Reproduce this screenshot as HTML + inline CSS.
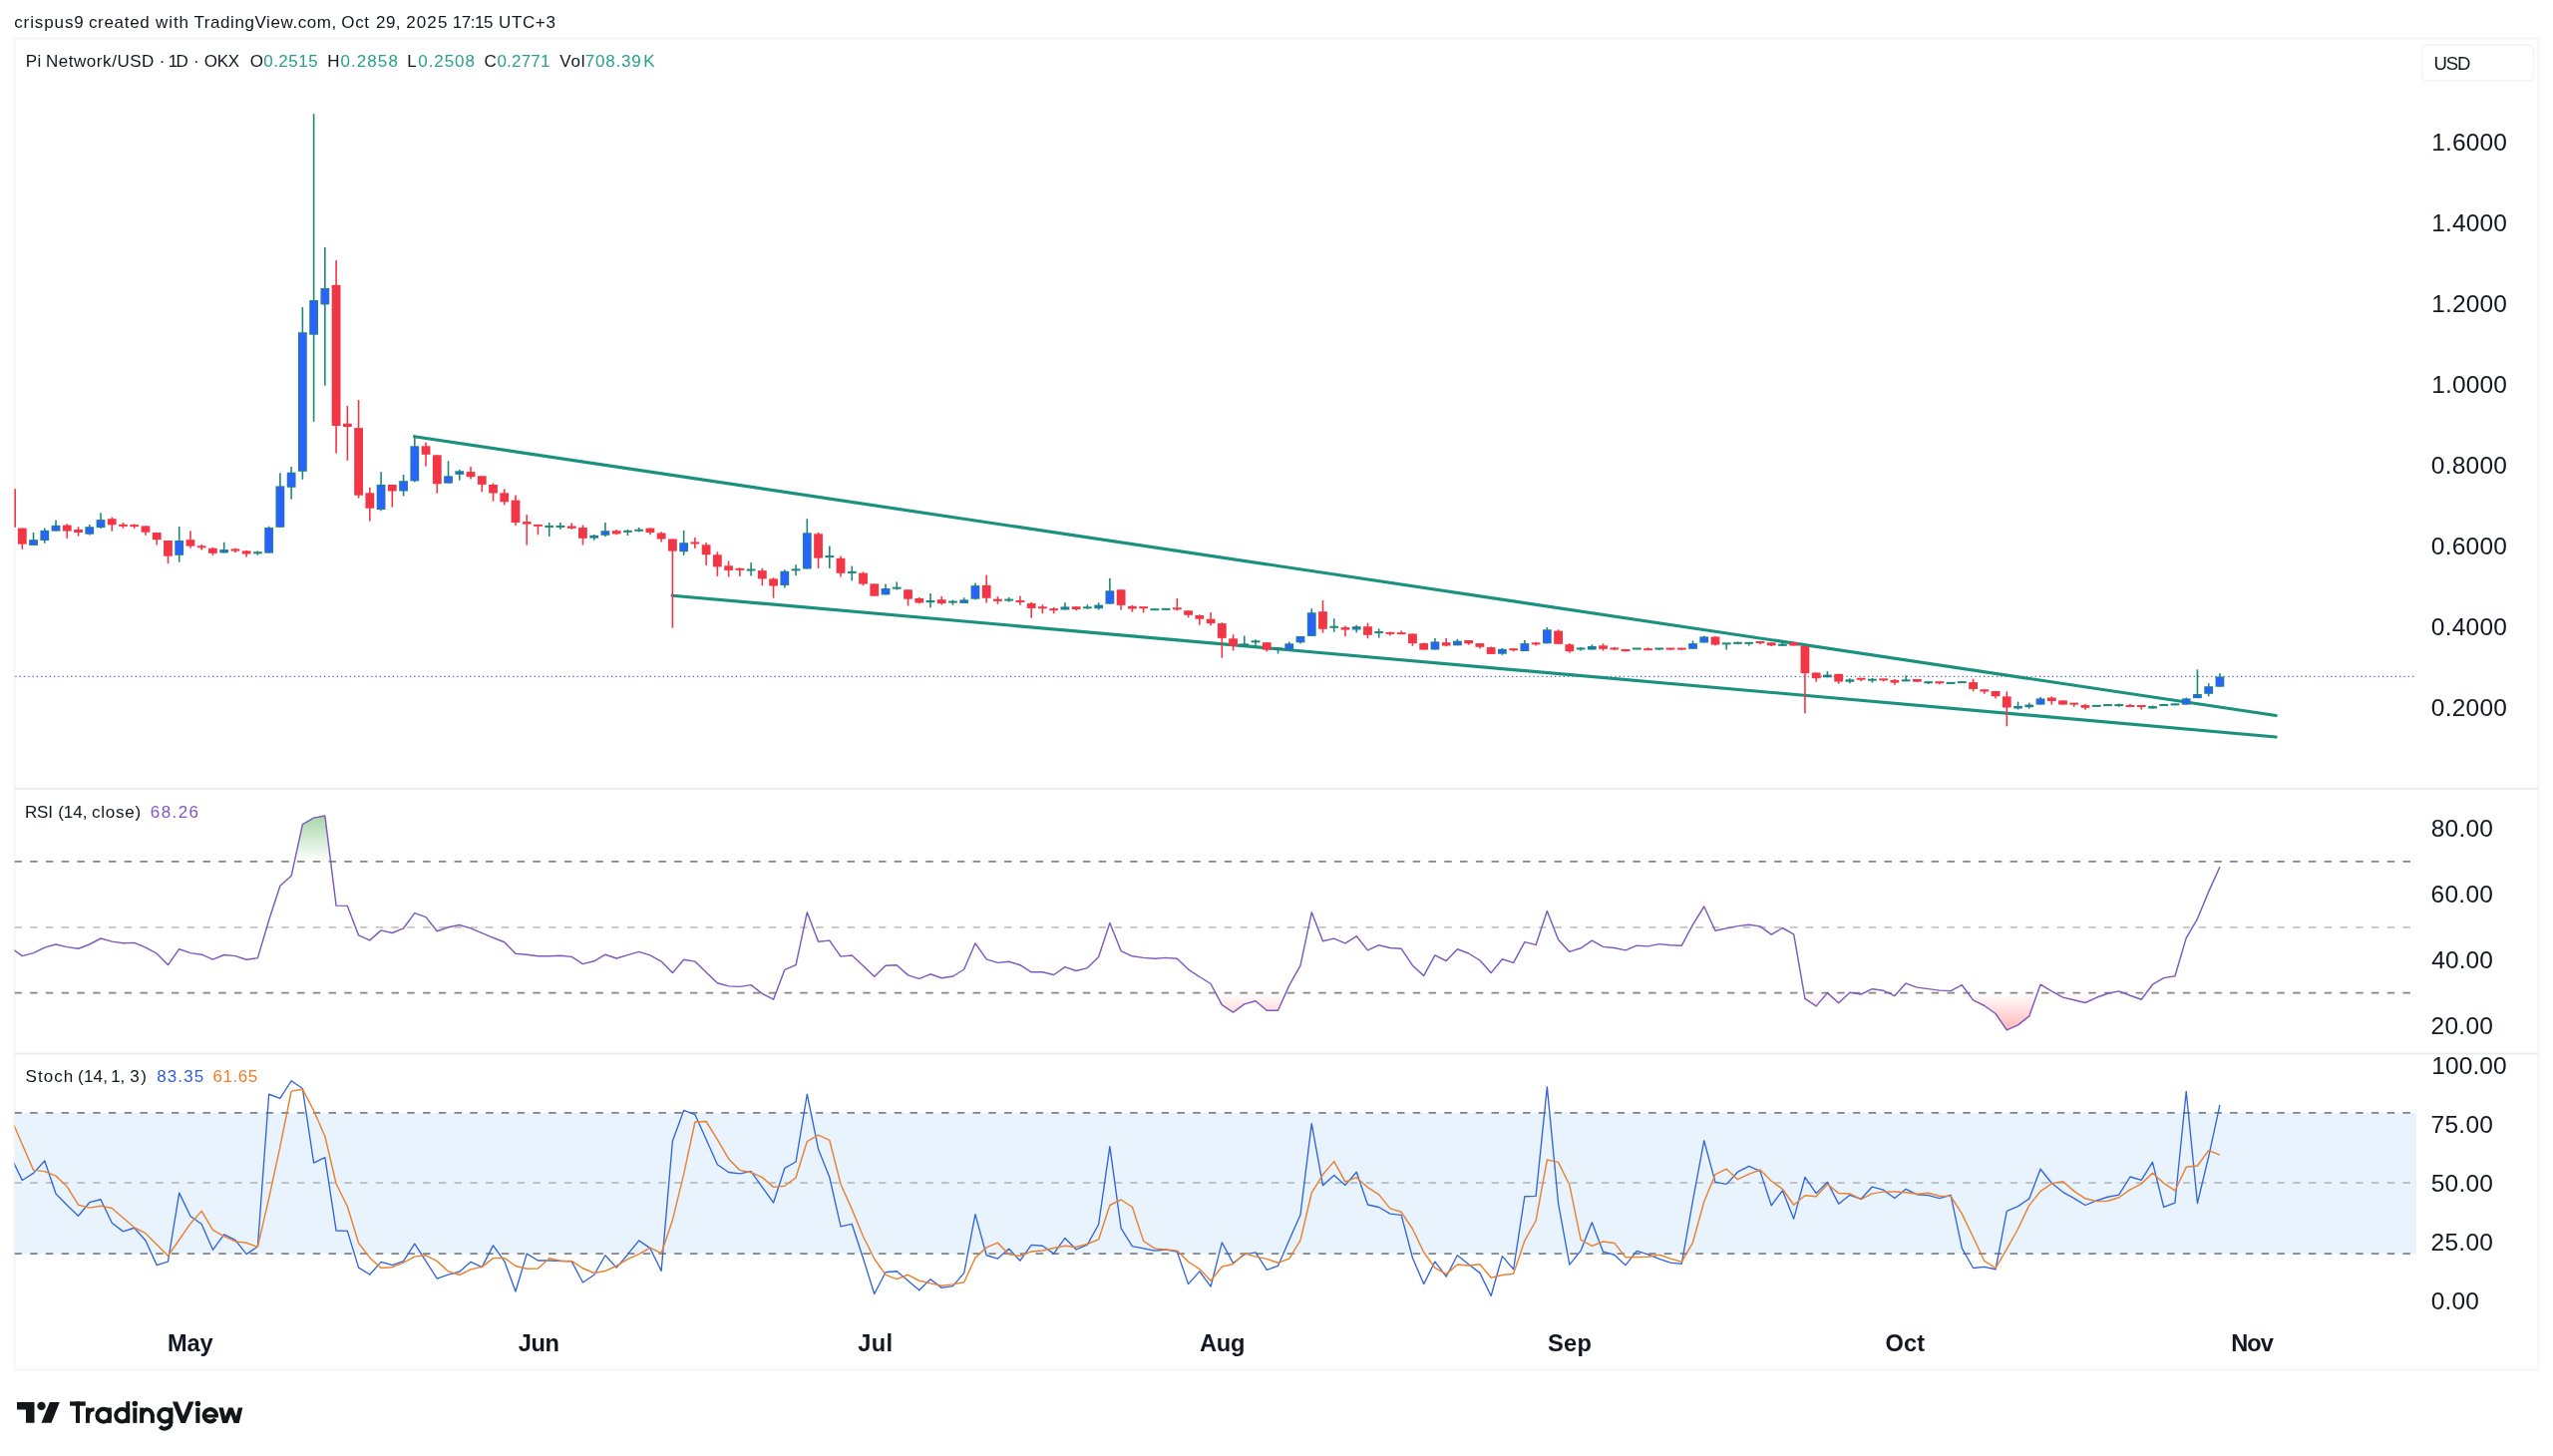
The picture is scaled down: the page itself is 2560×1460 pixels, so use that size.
<!DOCTYPE html>
<html><head><meta charset="utf-8"><title>Pi Network/USD chart</title>
<style>
html,body{margin:0;padding:0;background:#fff;}
body{width:2560px;height:1460px;position:relative;overflow:hidden;font-family:"Liberation Sans",sans-serif;}
.t{position:absolute;white-space:nowrap;}
</style></head><body>
<svg width="2560" height="1460" viewBox="0 0 2560 1460" style="position:absolute;left:0;top:0"><defs><clipPath id="cp"><rect x="14.5" y="39" width="2409" height="1334"/></clipPath><linearGradient id="gob" x1="0" y1="818" x2="0" y2="864" gradientUnits="userSpaceOnUse"><stop offset="0" stop-color="#4caf50" stop-opacity="0.5"/><stop offset="1" stop-color="#4caf50" stop-opacity="0"/></linearGradient><linearGradient id="gos" x1="0" y1="995.6" x2="0" y2="1033" gradientUnits="userSpaceOnUse"><stop offset="0" stop-color="#ff5252" stop-opacity="0"/><stop offset="1" stop-color="#ff5252" stop-opacity="0.42"/></linearGradient><clipPath id="cob"><rect x="14.5" y="800" width="2409" height="63.9"/></clipPath><clipPath id="cos"><rect x="14.5" y="995.6" width="2409" height="60"/></clipPath></defs><rect x="14.5" y="38.5" width="2531" height="1335" fill="none" stroke="#f6f6f6" stroke-width="2.2"/><line x1="14.5" y1="791" x2="2545.5" y2="791" stroke="#ececec" stroke-width="2"/><line x1="14.5" y1="1056.6" x2="2545.5" y2="1056.6" stroke="#ececec" stroke-width="2"/><rect x="2428.5" y="45" width="112" height="36" rx="5" fill="none" stroke="#f5f5f5" stroke-width="1.8"/><g clip-path="url(#cp)"><rect x="14.5" y="1116" width="2408.5" height="141.0999999999999" fill="#e8f3fd"/><line x1="14.4" y1="863.9" x2="2423" y2="863.9" stroke="#858585" stroke-width="1.7" stroke-dasharray="7.45 8.307"/><line x1="14.4" y1="929.8" x2="2423" y2="929.8" stroke="#c4c4c4" stroke-width="1.7" stroke-dasharray="7.45 8.307"/><line x1="14.4" y1="995.6" x2="2423" y2="995.6" stroke="#858585" stroke-width="1.7" stroke-dasharray="7.45 8.307"/><line x1="14.4" y1="1115.9" x2="2423" y2="1115.9" stroke="#7d8389" stroke-width="1.7" stroke-dasharray="7.45 8.307"/><line x1="14.4" y1="1186.2" x2="2423" y2="1186.2" stroke="#b5bcc4" stroke-width="1.7" stroke-dasharray="7.45 8.307"/><line x1="14.4" y1="1257.1" x2="2423" y2="1257.1" stroke="#7d8389" stroke-width="1.7" stroke-dasharray="7.45 8.307"/><line x1="15.3" y1="678.4" x2="2423" y2="678.4" stroke="#4f69bf" stroke-width="1.35" stroke-dasharray="1.3 3.0"/><line x1="415.5" y1="437.7" x2="2282.2" y2="717.5" stroke="#1a917f" stroke-width="3.15" stroke-linecap="round"/><line x1="674.1" y1="597.2" x2="2282.2" y2="739" stroke="#1a917f" stroke-width="3.15" stroke-linecap="round"/><rect x="10.26" y="490.3" width="1.6" height="38.5" fill="#f23645"/><rect x="6.66" y="490.3" width="8.8" height="38.5" fill="#f23645"/><rect x="21.5" y="529.6" width="1.6" height="21.2" fill="#f23645"/><rect x="17.9" y="529.6" width="8.8" height="16" fill="#f23645"/><rect x="32.74" y="534" width="1.6" height="12.9" fill="#1f8777"/><rect x="29.14" y="541.2" width="8.8" height="5.7" fill="#1f8777"/><rect x="30.04" y="542.1" width="7" height="3.9" fill="#2962ff"/><rect x="43.99" y="529.6" width="1.6" height="15.1" fill="#1f8777"/><rect x="40.39" y="531.8" width="8.8" height="10.2" fill="#1f8777"/><rect x="41.29" y="532.7" width="7" height="8.4" fill="#2962ff"/><rect x="55.23" y="521.6" width="1.6" height="11" fill="#1f8777"/><rect x="51.63" y="526.8" width="8.8" height="5.8" fill="#1f8777"/><rect x="52.53" y="527.7" width="7" height="4" fill="#2962ff"/><rect x="66.47" y="525.3" width="1.6" height="14.5" fill="#f23645"/><rect x="62.87" y="526.6" width="8.8" height="6" fill="#f23645"/><rect x="77.72" y="528.2" width="1.6" height="9.4" fill="#f23645"/><rect x="74.11" y="531" width="8.8" height="3" fill="#f23645"/><rect x="88.96" y="526" width="1.6" height="10.5" fill="#1f8777"/><rect x="85.36" y="528.2" width="8.8" height="7.5" fill="#1f8777"/><rect x="86.26" y="529.1" width="7" height="5.7" fill="#2962ff"/><rect x="100.2" y="514.3" width="1.6" height="15.6" fill="#1f8777"/><rect x="96.6" y="521.1" width="8.8" height="8" fill="#1f8777"/><rect x="97.5" y="522" width="7" height="6.2" fill="#2962ff"/><rect x="111.44" y="518.7" width="1.6" height="13.9" fill="#f23645"/><rect x="107.84" y="520.2" width="8.8" height="6.1" fill="#f23645"/><rect x="122.69" y="524" width="1.6" height="5.7" fill="#f23645"/><rect x="119.09" y="525.85" width="8.8" height="2" fill="#f23645"/><rect x="133.93" y="525.5" width="1.6" height="4.4" fill="#f23645"/><rect x="130.33" y="526.1" width="8.8" height="2" fill="#f23645"/><rect x="145.17" y="527.4" width="1.6" height="9.4" fill="#f23645"/><rect x="141.57" y="527.4" width="8.8" height="6.3" fill="#f23645"/><rect x="156.42" y="534" width="1.6" height="12.4" fill="#f23645"/><rect x="152.82" y="534" width="8.8" height="7.2" fill="#f23645"/><rect x="167.66" y="542" width="1.6" height="23" fill="#f23645"/><rect x="164.06" y="542" width="8.8" height="15.7" fill="#f23645"/><rect x="178.9" y="528" width="1.6" height="35.7" fill="#1f8777"/><rect x="175.3" y="542" width="8.8" height="14.8" fill="#1f8777"/><rect x="176.2" y="542.9" width="7" height="13" fill="#2962ff"/><rect x="190.15" y="532.3" width="1.6" height="17.4" fill="#f23645"/><rect x="186.55" y="541.2" width="8.8" height="6.4" fill="#f23645"/><rect x="201.39" y="546" width="1.6" height="5.5" fill="#f23645"/><rect x="197.79" y="547.3" width="8.8" height="2" fill="#f23645"/><rect x="212.63" y="548.9" width="1.6" height="8.1" fill="#f23645"/><rect x="209.03" y="549.7" width="8.8" height="5.1" fill="#f23645"/><rect x="223.87" y="543.8" width="1.6" height="10.6" fill="#1f8777"/><rect x="220.27" y="551.1" width="8.8" height="3.3" fill="#1f8777"/><rect x="221.17" y="552" width="7" height="1.5" fill="#1f6fd0"/><rect x="235.12" y="549.7" width="1.6" height="4.3" fill="#f23645"/><rect x="231.52" y="550.4" width="8.8" height="2.2" fill="#f23645"/><rect x="246.36" y="551.9" width="1.6" height="6.6" fill="#f23645"/><rect x="242.76" y="552.4" width="8.8" height="3.1" fill="#f23645"/><rect x="257.6" y="552.4" width="1.6" height="4.2" fill="#1f8777"/><rect x="254" y="553.3" width="8.8" height="2" fill="#1f8777"/><rect x="268.85" y="527.7" width="1.6" height="26.9" fill="#1f8777"/><rect x="265.25" y="529.1" width="8.8" height="25.5" fill="#1f8777"/><rect x="266.15" y="530" width="7" height="23.7" fill="#2962ff"/><rect x="280.09" y="474.3" width="1.6" height="54.5" fill="#1f8777"/><rect x="276.49" y="487.4" width="8.8" height="41.4" fill="#1f8777"/><rect x="277.39" y="488.3" width="7" height="39.6" fill="#2962ff"/><rect x="291.33" y="468.1" width="1.6" height="32.4" fill="#1f8777"/><rect x="287.73" y="473.7" width="8.8" height="15.1" fill="#1f8777"/><rect x="288.63" y="474.6" width="7" height="13.3" fill="#2962ff"/><rect x="302.57" y="307.9" width="1.6" height="172.9" fill="#1f8777"/><rect x="298.98" y="333.2" width="8.8" height="139.6" fill="#1f8777"/><rect x="299.88" y="334.1" width="7" height="137.8" fill="#2962ff"/><rect x="313.82" y="114.2" width="1.6" height="308.7" fill="#1f8777"/><rect x="310.22" y="301" width="8.8" height="34.7" fill="#1f8777"/><rect x="311.12" y="301.9" width="7" height="32.9" fill="#2962ff"/><rect x="325.06" y="247.9" width="1.6" height="138.7" fill="#1f8777"/><rect x="321.46" y="289" width="8.8" height="16.4" fill="#1f8777"/><rect x="322.36" y="289.9" width="7" height="14.6" fill="#2962ff"/><rect x="336.3" y="261.1" width="1.6" height="193.4" fill="#f23645"/><rect x="332.7" y="285.8" width="8.8" height="141.2" fill="#f23645"/><rect x="347.55" y="407.1" width="1.6" height="54.7" fill="#f23645"/><rect x="343.95" y="424.8" width="8.8" height="3.2" fill="#f23645"/><rect x="358.79" y="401.1" width="1.6" height="98.4" fill="#f23645"/><rect x="355.19" y="429.1" width="8.8" height="67.6" fill="#f23645"/><rect x="370.03" y="488.8" width="1.6" height="33.7" fill="#f23645"/><rect x="366.43" y="494.3" width="8.8" height="15.4" fill="#f23645"/><rect x="381.28" y="473.1" width="1.6" height="39.2" fill="#1f8777"/><rect x="377.68" y="486" width="8.8" height="25" fill="#1f8777"/><rect x="378.58" y="486.9" width="7" height="23.2" fill="#2962ff"/><rect x="392.52" y="486" width="1.6" height="22.6" fill="#f23645"/><rect x="388.92" y="486" width="8.8" height="6.5" fill="#f23645"/><rect x="403.76" y="476" width="1.6" height="21.5" fill="#1f8777"/><rect x="400.16" y="482.2" width="8.8" height="10.3" fill="#1f8777"/><rect x="401.06" y="483.1" width="7" height="8.5" fill="#2962ff"/><rect x="415" y="437.4" width="1.6" height="45.9" fill="#1f8777"/><rect x="411.41" y="447.3" width="8.8" height="35.1" fill="#1f8777"/><rect x="412.31" y="448.2" width="7" height="33.3" fill="#2962ff"/><rect x="426.25" y="443.7" width="1.6" height="23.9" fill="#f23645"/><rect x="422.65" y="447.3" width="8.8" height="8.5" fill="#f23645"/><rect x="437.49" y="456.3" width="1.6" height="38.4" fill="#f23645"/><rect x="433.89" y="456.3" width="8.8" height="28.9" fill="#f23645"/><rect x="448.73" y="462.3" width="1.6" height="22.3" fill="#1f8777"/><rect x="445.13" y="477.3" width="8.8" height="7.3" fill="#1f8777"/><rect x="446.03" y="478.2" width="7" height="5.5" fill="#2962ff"/><rect x="459.98" y="470.9" width="1.6" height="10.7" fill="#1f8777"/><rect x="456.38" y="472.3" width="8.8" height="3.5" fill="#1f8777"/><rect x="457.28" y="473.2" width="7" height="1.7" fill="#1f6fd0"/><rect x="471.22" y="468.1" width="1.6" height="12.3" fill="#f23645"/><rect x="467.62" y="473.1" width="8.8" height="5.1" fill="#f23645"/><rect x="482.46" y="477.3" width="1.6" height="16.1" fill="#f23645"/><rect x="478.86" y="477.3" width="8.8" height="8.6" fill="#f23645"/><rect x="493.71" y="484.4" width="1.6" height="18.3" fill="#f23645"/><rect x="490.11" y="486" width="8.8" height="8.5" fill="#f23645"/><rect x="504.95" y="490.3" width="1.6" height="16.1" fill="#f23645"/><rect x="501.35" y="494.3" width="8.8" height="9" fill="#f23645"/><rect x="516.19" y="496.5" width="1.6" height="30.4" fill="#f23645"/><rect x="512.59" y="501.6" width="8.8" height="22.4" fill="#f23645"/><rect x="527.44" y="516.2" width="1.6" height="30.3" fill="#f23645"/><rect x="523.84" y="523.1" width="8.8" height="2.5" fill="#f23645"/><rect x="538.68" y="526.2" width="1.6" height="10.1" fill="#f23645"/><rect x="535.08" y="525.85" width="8.8" height="2" fill="#f23645"/><rect x="549.92" y="524" width="1.6" height="13.9" fill="#1f8777"/><rect x="546.32" y="526.95" width="8.8" height="2" fill="#1f8777"/><rect x="561.16" y="524" width="1.6" height="6.8" fill="#1f8777"/><rect x="557.56" y="526.95" width="8.8" height="2" fill="#1f8777"/><rect x="572.41" y="524.5" width="1.6" height="6.3" fill="#f23645"/><rect x="568.81" y="527.5" width="8.8" height="2.4" fill="#f23645"/><rect x="583.65" y="526.4" width="1.6" height="20.1" fill="#f23645"/><rect x="580.05" y="529.1" width="8.8" height="10.7" fill="#f23645"/><rect x="594.89" y="536" width="1.6" height="5.8" fill="#1f8777"/><rect x="591.29" y="536.8" width="8.8" height="2.8" fill="#1f8777"/><rect x="592.19" y="537.7" width="7" height="1" fill="#1f6fd0"/><rect x="606.14" y="524" width="1.6" height="14.2" fill="#1f8777"/><rect x="602.54" y="532.2" width="8.8" height="4.6" fill="#1f8777"/><rect x="603.44" y="533.1" width="7" height="2.8" fill="#2962ff"/><rect x="617.38" y="531.1" width="1.6" height="5.2" fill="#f23645"/><rect x="613.78" y="532.2" width="8.8" height="3.2" fill="#f23645"/><rect x="628.62" y="530.9" width="1.6" height="6.1" fill="#1f8777"/><rect x="625.02" y="531.85" width="8.8" height="2" fill="#1f8777"/><rect x="639.87" y="529" width="1.6" height="4.4" fill="#1f8777"/><rect x="636.26" y="530.75" width="8.8" height="2" fill="#1f8777"/><rect x="651.11" y="529.6" width="1.6" height="6.6" fill="#f23645"/><rect x="647.51" y="529.6" width="8.8" height="4.4" fill="#f23645"/><rect x="662.35" y="533.2" width="1.6" height="10.3" fill="#f23645"/><rect x="658.75" y="534.5" width="8.8" height="6" fill="#f23645"/><rect x="673.59" y="540.5" width="1.6" height="89.1" fill="#f23645"/><rect x="669.99" y="540.5" width="8.8" height="12.1" fill="#f23645"/><rect x="684.84" y="531.8" width="1.6" height="25" fill="#1f8777"/><rect x="681.24" y="544.2" width="8.8" height="9" fill="#1f8777"/><rect x="682.14" y="545.1" width="7" height="7.2" fill="#2962ff"/><rect x="696.08" y="539.1" width="1.6" height="10.8" fill="#f23645"/><rect x="692.48" y="543.45" width="8.8" height="2" fill="#f23645"/><rect x="707.32" y="544.1" width="1.6" height="22.8" fill="#f23645"/><rect x="703.72" y="546.3" width="8.8" height="10" fill="#f23645"/><rect x="718.57" y="553.4" width="1.6" height="24.5" fill="#f23645"/><rect x="714.97" y="556.3" width="8.8" height="12.1" fill="#f23645"/><rect x="729.81" y="562.5" width="1.6" height="16" fill="#f23645"/><rect x="726.21" y="567.3" width="8.8" height="4.6" fill="#f23645"/><rect x="741.05" y="569.3" width="1.6" height="8.6" fill="#f23645"/><rect x="737.45" y="569.85" width="8.8" height="2" fill="#f23645"/><rect x="752.3" y="564.2" width="1.6" height="13.2" fill="#1f8777"/><rect x="748.7" y="570.5" width="8.8" height="2" fill="#1f8777"/><rect x="763.54" y="569.7" width="1.6" height="17.6" fill="#f23645"/><rect x="759.94" y="572.1" width="8.8" height="8.3" fill="#f23645"/><rect x="774.78" y="579.2" width="1.6" height="20.5" fill="#f23645"/><rect x="771.18" y="580.4" width="8.8" height="7.1" fill="#f23645"/><rect x="786.02" y="571.3" width="1.6" height="18.2" fill="#1f8777"/><rect x="782.42" y="572.7" width="8.8" height="14.3" fill="#1f8777"/><rect x="783.32" y="573.6" width="7" height="12.5" fill="#2962ff"/><rect x="797.27" y="566.2" width="1.6" height="10.9" fill="#1f8777"/><rect x="793.67" y="570.35" width="8.8" height="2" fill="#1f8777"/><rect x="808.51" y="520.2" width="1.6" height="50.3" fill="#1f8777"/><rect x="804.91" y="534.3" width="8.8" height="36.2" fill="#1f8777"/><rect x="805.81" y="535.2" width="7" height="34.4" fill="#2962ff"/><rect x="819.75" y="534" width="1.6" height="35.9" fill="#f23645"/><rect x="816.15" y="535.3" width="8.8" height="24.3" fill="#f23645"/><rect x="831" y="547.5" width="1.6" height="22.4" fill="#1f8777"/><rect x="827.4" y="557.05" width="8.8" height="2" fill="#1f8777"/><rect x="842.24" y="557.6" width="1.6" height="20.9" fill="#f23645"/><rect x="838.64" y="559.8" width="8.8" height="15" fill="#f23645"/><rect x="853.48" y="567.6" width="1.6" height="14.7" fill="#1f8777"/><rect x="849.88" y="572.9" width="8.8" height="2" fill="#1f8777"/><rect x="864.73" y="573.3" width="1.6" height="14" fill="#f23645"/><rect x="861.12" y="574.6" width="8.8" height="11" fill="#f23645"/><rect x="875.97" y="585.4" width="1.6" height="12.3" fill="#f23645"/><rect x="872.37" y="585.4" width="8.8" height="12.3" fill="#f23645"/><rect x="887.21" y="585.6" width="1.6" height="10.8" fill="#1f8777"/><rect x="883.61" y="590" width="8.8" height="6.4" fill="#1f8777"/><rect x="884.51" y="590.9" width="7" height="4.6" fill="#2962ff"/><rect x="898.45" y="583.5" width="1.6" height="8" fill="#1f8777"/><rect x="894.85" y="588.65" width="8.8" height="2" fill="#1f8777"/><rect x="909.7" y="591.3" width="1.6" height="16.2" fill="#f23645"/><rect x="906.1" y="591.3" width="8.8" height="9.4" fill="#f23645"/><rect x="920.94" y="599" width="1.6" height="6.3" fill="#f23645"/><rect x="917.34" y="600" width="8.8" height="4.5" fill="#f23645"/><rect x="932.18" y="595.1" width="1.6" height="14.2" fill="#1f8777"/><rect x="928.58" y="602" width="8.8" height="2.2" fill="#1f8777"/><rect x="943.43" y="597.9" width="1.6" height="8.5" fill="#f23645"/><rect x="939.83" y="601.2" width="8.8" height="3.9" fill="#f23645"/><rect x="954.67" y="601.6" width="1.6" height="5" fill="#1f8777"/><rect x="951.07" y="602.55" width="8.8" height="2" fill="#1f8777"/><rect x="965.91" y="599.2" width="1.6" height="5.7" fill="#1f8777"/><rect x="962.31" y="601.4" width="8.8" height="3.5" fill="#1f8777"/><rect x="963.21" y="602.3" width="7" height="1.7" fill="#1f6fd0"/><rect x="977.15" y="584.6" width="1.6" height="16.8" fill="#1f8777"/><rect x="973.55" y="587.1" width="8.8" height="13.6" fill="#1f8777"/><rect x="974.45" y="588" width="7" height="11.8" fill="#2962ff"/><rect x="988.4" y="576.7" width="1.6" height="27.8" fill="#f23645"/><rect x="984.8" y="586.9" width="8.8" height="12.9" fill="#f23645"/><rect x="999.64" y="598.1" width="1.6" height="7.7" fill="#f23645"/><rect x="996.04" y="600.7" width="8.8" height="2.2" fill="#f23645"/><rect x="1010.88" y="598.9" width="1.6" height="4.7" fill="#1f8777"/><rect x="1007.28" y="600.6" width="8.8" height="2" fill="#1f8777"/><rect x="1022.13" y="597.6" width="1.6" height="9" fill="#f23645"/><rect x="1018.53" y="602" width="8.8" height="2" fill="#f23645"/><rect x="1033.37" y="603.8" width="1.6" height="15.8" fill="#f23645"/><rect x="1029.77" y="605.1" width="8.8" height="4.8" fill="#f23645"/><rect x="1044.61" y="606.2" width="1.6" height="9" fill="#f23645"/><rect x="1041.01" y="608.25" width="8.8" height="2" fill="#f23645"/><rect x="1055.86" y="608.9" width="1.6" height="6.3" fill="#f23645"/><rect x="1052.26" y="610.2" width="8.8" height="2" fill="#f23645"/><rect x="1067.1" y="604.2" width="1.6" height="7.3" fill="#1f8777"/><rect x="1063.5" y="608.4" width="8.8" height="3.1" fill="#1f8777"/><rect x="1064.4" y="609.3" width="7" height="1.3" fill="#1f6fd0"/><rect x="1078.34" y="608.2" width="1.6" height="4" fill="#f23645"/><rect x="1074.74" y="608.2" width="8.8" height="2.8" fill="#f23645"/><rect x="1089.59" y="606.2" width="1.6" height="4.6" fill="#1f8777"/><rect x="1085.98" y="608.3" width="8.8" height="2" fill="#1f8777"/><rect x="1100.83" y="604.2" width="1.6" height="7.4" fill="#1f8777"/><rect x="1097.23" y="606.6" width="8.8" height="3.6" fill="#1f8777"/><rect x="1098.13" y="607.5" width="7" height="1.8" fill="#1f6fd0"/><rect x="1112.07" y="579.8" width="1.6" height="25.8" fill="#1f8777"/><rect x="1108.47" y="592.3" width="8.8" height="13.3" fill="#1f8777"/><rect x="1109.37" y="593.2" width="7" height="11.5" fill="#2962ff"/><rect x="1123.31" y="591.3" width="1.6" height="20.3" fill="#f23645"/><rect x="1119.71" y="591.3" width="8.8" height="15.6" fill="#f23645"/><rect x="1134.56" y="606.9" width="1.6" height="6.8" fill="#f23645"/><rect x="1130.96" y="607.8" width="8.8" height="2.7" fill="#f23645"/><rect x="1145.8" y="608.6" width="1.6" height="5.8" fill="#f23645"/><rect x="1142.2" y="608.15" width="8.8" height="2" fill="#f23645"/><rect x="1157.04" y="610.5" width="1.6" height="1.4" fill="#1f8777"/><rect x="1153.44" y="610.2" width="8.8" height="2" fill="#1f8777"/><rect x="1168.29" y="610.2" width="1.6" height="1.9" fill="#1f8777"/><rect x="1164.69" y="609.85" width="8.8" height="2" fill="#1f8777"/><rect x="1179.53" y="600" width="1.6" height="12.4" fill="#f23645"/><rect x="1175.93" y="609.3" width="8.8" height="2" fill="#f23645"/><rect x="1190.77" y="612.3" width="1.6" height="6.9" fill="#f23645"/><rect x="1187.17" y="612.3" width="8.8" height="4.5" fill="#f23645"/><rect x="1202.02" y="616.3" width="1.6" height="10.3" fill="#f23645"/><rect x="1198.41" y="617" width="8.8" height="3.7" fill="#f23645"/><rect x="1213.26" y="614.1" width="1.6" height="13.2" fill="#f23645"/><rect x="1209.66" y="620.7" width="8.8" height="4.4" fill="#f23645"/><rect x="1224.5" y="624.2" width="1.6" height="35.5" fill="#f23645"/><rect x="1220.9" y="625.1" width="8.8" height="14.8" fill="#f23645"/><rect x="1235.74" y="636.3" width="1.6" height="16.1" fill="#f23645"/><rect x="1232.14" y="640.3" width="8.8" height="7.3" fill="#f23645"/><rect x="1246.99" y="637.6" width="1.6" height="9.7" fill="#1f8777"/><rect x="1243.39" y="645.35" width="8.8" height="2" fill="#1f8777"/><rect x="1258.23" y="641.2" width="1.6" height="6.6" fill="#1f8777"/><rect x="1254.63" y="642.3" width="8.8" height="2" fill="#1f8777"/><rect x="1269.47" y="644.2" width="1.6" height="9.1" fill="#f23645"/><rect x="1265.87" y="644.2" width="8.8" height="7.4" fill="#f23645"/><rect x="1280.72" y="649.2" width="1.6" height="6.3" fill="#1f8777"/><rect x="1277.12" y="649.35" width="8.8" height="2" fill="#1f8777"/><rect x="1291.96" y="643.6" width="1.6" height="8" fill="#1f8777"/><rect x="1288.36" y="645.3" width="8.8" height="6.3" fill="#1f8777"/><rect x="1289.26" y="646.2" width="7" height="4.5" fill="#2962ff"/><rect x="1303.2" y="637.9" width="1.6" height="7.5" fill="#1f8777"/><rect x="1299.6" y="637.9" width="8.8" height="6.4" fill="#1f8777"/><rect x="1300.5" y="638.8" width="7" height="4.6" fill="#2962ff"/><rect x="1314.44" y="610.2" width="1.6" height="27.7" fill="#1f8777"/><rect x="1310.84" y="614.3" width="8.8" height="23.6" fill="#1f8777"/><rect x="1311.74" y="615.2" width="7" height="21.8" fill="#2962ff"/><rect x="1325.69" y="602" width="1.6" height="32.6" fill="#f23645"/><rect x="1322.09" y="613.2" width="8.8" height="17.6" fill="#f23645"/><rect x="1336.93" y="620.3" width="1.6" height="13.5" fill="#1f8777"/><rect x="1333.33" y="627.75" width="8.8" height="2" fill="#1f8777"/><rect x="1348.17" y="627.5" width="1.6" height="10.7" fill="#f23645"/><rect x="1344.57" y="629.1" width="8.8" height="2.5" fill="#f23645"/><rect x="1359.42" y="626.9" width="1.6" height="7.5" fill="#1f8777"/><rect x="1355.82" y="628.2" width="8.8" height="3.3" fill="#1f8777"/><rect x="1356.72" y="629.1" width="7" height="1.5" fill="#1f6fd0"/><rect x="1370.66" y="624.7" width="1.6" height="15.6" fill="#f23645"/><rect x="1367.06" y="628.2" width="8.8" height="8.6" fill="#f23645"/><rect x="1381.9" y="630.4" width="1.6" height="9.2" fill="#1f8777"/><rect x="1378.3" y="633.05" width="8.8" height="2" fill="#1f8777"/><rect x="1393.15" y="633.5" width="1.6" height="3.9" fill="#f23645"/><rect x="1389.55" y="633.9" width="8.8" height="2" fill="#f23645"/><rect x="1404.39" y="632.4" width="1.6" height="3.3" fill="#f23645"/><rect x="1400.79" y="634.15" width="8.8" height="2" fill="#f23645"/><rect x="1415.63" y="635.5" width="1.6" height="12.3" fill="#f23645"/><rect x="1412.03" y="635.5" width="8.8" height="9.6" fill="#f23645"/><rect x="1426.88" y="644.5" width="1.6" height="7.1" fill="#f23645"/><rect x="1423.27" y="645.1" width="8.8" height="6.5" fill="#f23645"/><rect x="1438.12" y="640" width="1.6" height="11.5" fill="#1f8777"/><rect x="1434.52" y="643.4" width="8.8" height="8.1" fill="#1f8777"/><rect x="1435.42" y="644.3" width="7" height="6.3" fill="#2962ff"/><rect x="1449.36" y="640" width="1.6" height="8.2" fill="#f23645"/><rect x="1445.76" y="644.2" width="8.8" height="3.3" fill="#f23645"/><rect x="1460.6" y="640.9" width="1.6" height="6.4" fill="#1f8777"/><rect x="1457" y="642.7" width="8.8" height="4.6" fill="#1f8777"/><rect x="1457.9" y="643.6" width="7" height="2.8" fill="#2962ff"/><rect x="1471.85" y="642" width="1.6" height="4.7" fill="#f23645"/><rect x="1468.25" y="642" width="8.8" height="3.3" fill="#f23645"/><rect x="1483.09" y="645.1" width="1.6" height="5.4" fill="#f23645"/><rect x="1479.49" y="645.1" width="8.8" height="3.7" fill="#f23645"/><rect x="1494.33" y="648.4" width="1.6" height="7.5" fill="#f23645"/><rect x="1490.73" y="649.1" width="8.8" height="6.8" fill="#f23645"/><rect x="1505.58" y="649.9" width="1.6" height="6.9" fill="#1f8777"/><rect x="1501.98" y="650.8" width="8.8" height="4.9" fill="#1f8777"/><rect x="1502.88" y="651.7" width="7" height="3.1" fill="#2962ff"/><rect x="1516.82" y="650.5" width="1.6" height="2.8" fill="#f23645"/><rect x="1513.22" y="650.2" width="8.8" height="2" fill="#f23645"/><rect x="1528.06" y="642" width="1.6" height="11" fill="#1f8777"/><rect x="1524.46" y="645.1" width="8.8" height="7.9" fill="#1f8777"/><rect x="1525.36" y="646" width="7" height="6.1" fill="#2962ff"/><rect x="1539.31" y="643.8" width="1.6" height="3.7" fill="#f23645"/><rect x="1535.7" y="644.35" width="8.8" height="2" fill="#f23645"/><rect x="1550.55" y="629" width="1.6" height="16.3" fill="#1f8777"/><rect x="1546.95" y="631.3" width="8.8" height="14" fill="#1f8777"/><rect x="1547.85" y="632.2" width="7" height="12.2" fill="#2962ff"/><rect x="1561.79" y="631.3" width="1.6" height="14.5" fill="#f23645"/><rect x="1558.19" y="632.6" width="8.8" height="13.2" fill="#f23645"/><rect x="1573.03" y="645" width="1.6" height="9.6" fill="#f23645"/><rect x="1569.43" y="646.2" width="8.8" height="7" fill="#f23645"/><rect x="1584.28" y="648.9" width="1.6" height="3.7" fill="#1f8777"/><rect x="1580.68" y="649.45" width="8.8" height="2" fill="#1f8777"/><rect x="1595.52" y="646.4" width="1.6" height="5.1" fill="#1f8777"/><rect x="1591.92" y="648" width="8.8" height="3.5" fill="#1f8777"/><rect x="1592.82" y="648.9" width="7" height="1.7" fill="#1f6fd0"/><rect x="1606.76" y="645.3" width="1.6" height="7.3" fill="#f23645"/><rect x="1603.16" y="647.3" width="8.8" height="3.5" fill="#f23645"/><rect x="1618.01" y="648.9" width="1.6" height="3" fill="#f23645"/><rect x="1614.41" y="649.45" width="8.8" height="2" fill="#f23645"/><rect x="1629.25" y="651" width="1.6" height="2.2" fill="#f23645"/><rect x="1625.65" y="651" width="8.8" height="2.2" fill="#f23645"/><rect x="1640.49" y="649.9" width="1.6" height="1.2" fill="#1f8777"/><rect x="1636.89" y="649.5" width="8.8" height="2" fill="#1f8777"/><rect x="1651.74" y="649.3" width="1.6" height="2.6" fill="#f23645"/><rect x="1648.13" y="650.2" width="8.8" height="2" fill="#f23645"/><rect x="1662.98" y="649.9" width="1.6" height="2" fill="#1f8777"/><rect x="1659.38" y="649.5" width="8.8" height="2" fill="#1f8777"/><rect x="1674.22" y="650" width="1.6" height="1.9" fill="#f23645"/><rect x="1670.62" y="649.55" width="8.8" height="2" fill="#f23645"/><rect x="1685.46" y="650" width="1.6" height="1.9" fill="#f23645"/><rect x="1681.86" y="649.55" width="8.8" height="2" fill="#f23645"/><rect x="1696.71" y="642.5" width="1.6" height="8.3" fill="#1f8777"/><rect x="1693.11" y="645.1" width="8.8" height="5.7" fill="#1f8777"/><rect x="1694.01" y="646" width="7" height="3.9" fill="#2962ff"/><rect x="1707.95" y="637.6" width="1.6" height="6.9" fill="#1f8777"/><rect x="1704.35" y="638.4" width="8.8" height="6.1" fill="#1f8777"/><rect x="1705.25" y="639.3" width="7" height="4.3" fill="#2962ff"/><rect x="1719.19" y="638" width="1.6" height="9.3" fill="#f23645"/><rect x="1715.59" y="638.5" width="8.8" height="8" fill="#f23645"/><rect x="1730.44" y="644.8" width="1.6" height="6.8" fill="#1f8777"/><rect x="1726.84" y="644.35" width="8.8" height="2" fill="#1f8777"/><rect x="1741.68" y="643.5" width="1.6" height="2.9" fill="#1f8777"/><rect x="1738.08" y="643.8" width="8.8" height="2" fill="#1f8777"/><rect x="1752.92" y="644.2" width="1.6" height="3.3" fill="#1f8777"/><rect x="1749.32" y="643.8" width="8.8" height="2" fill="#1f8777"/><rect x="1764.16" y="643.4" width="1.6" height="2.8" fill="#f23645"/><rect x="1760.56" y="643.05" width="8.8" height="2" fill="#f23645"/><rect x="1775.41" y="644.3" width="1.6" height="3.7" fill="#f23645"/><rect x="1771.81" y="644.3" width="8.8" height="3" fill="#f23645"/><rect x="1786.65" y="644" width="1.6" height="3.8" fill="#1f8777"/><rect x="1783.05" y="645.6" width="8.8" height="2.2" fill="#1f8777"/><rect x="1797.89" y="644.3" width="1.6" height="3.2" fill="#f23645"/><rect x="1794.29" y="644.3" width="8.8" height="3.2" fill="#f23645"/><rect x="1809.14" y="647.8" width="1.6" height="67.6" fill="#f23645"/><rect x="1805.54" y="647.8" width="8.8" height="27.3" fill="#f23645"/><rect x="1820.38" y="674.5" width="1.6" height="9.2" fill="#f23645"/><rect x="1816.78" y="674.5" width="8.8" height="5.7" fill="#f23645"/><rect x="1831.62" y="673.1" width="1.6" height="6.2" fill="#1f8777"/><rect x="1828.02" y="676.6" width="8.8" height="2.7" fill="#1f8777"/><rect x="1828.92" y="677.5" width="7" height="0.9" fill="#1f6fd0"/><rect x="1842.87" y="675.8" width="1.6" height="9.9" fill="#f23645"/><rect x="1839.27" y="675.8" width="8.8" height="7.7" fill="#f23645"/><rect x="1854.11" y="680.2" width="1.6" height="5" fill="#1f8777"/><rect x="1850.51" y="681.3" width="8.8" height="2.4" fill="#1f8777"/><rect x="1865.35" y="680.2" width="1.6" height="3" fill="#f23645"/><rect x="1861.75" y="679.75" width="8.8" height="2" fill="#f23645"/><rect x="1876.6" y="680" width="1.6" height="4.6" fill="#1f8777"/><rect x="1872.99" y="680.7" width="8.8" height="2" fill="#1f8777"/><rect x="1887.84" y="680.8" width="1.6" height="2.4" fill="#f23645"/><rect x="1884.24" y="680.35" width="8.8" height="2" fill="#f23645"/><rect x="1899.08" y="681" width="1.6" height="5.8" fill="#f23645"/><rect x="1895.48" y="681.9" width="8.8" height="2.7" fill="#f23645"/><rect x="1910.32" y="677.3" width="1.6" height="5.9" fill="#1f8777"/><rect x="1906.72" y="681.35" width="8.8" height="2" fill="#1f8777"/><rect x="1921.57" y="681" width="1.6" height="2.7" fill="#f23645"/><rect x="1917.97" y="681" width="8.8" height="2.7" fill="#f23645"/><rect x="1932.81" y="683" width="1.6" height="3" fill="#1f8777"/><rect x="1929.21" y="683.25" width="8.8" height="2" fill="#1f8777"/><rect x="1944.05" y="683.7" width="1.6" height="2.6" fill="#f23645"/><rect x="1940.45" y="683.25" width="8.8" height="2" fill="#f23645"/><rect x="1955.3" y="684.3" width="1.6" height="1.2" fill="#1f8777"/><rect x="1951.7" y="683.9" width="8.8" height="2" fill="#1f8777"/><rect x="1966.54" y="683.5" width="1.6" height="1.3" fill="#1f8777"/><rect x="1962.94" y="683.15" width="8.8" height="2" fill="#1f8777"/><rect x="1977.78" y="680.8" width="1.6" height="12.4" fill="#f23645"/><rect x="1974.18" y="684.1" width="8.8" height="6.9" fill="#f23645"/><rect x="1989.03" y="691.3" width="1.6" height="4.5" fill="#f23645"/><rect x="1985.42" y="691.3" width="8.8" height="2.3" fill="#f23645"/><rect x="2000.27" y="693" width="1.6" height="7.4" fill="#f23645"/><rect x="1996.67" y="693" width="8.8" height="5.2" fill="#f23645"/><rect x="2011.51" y="693.4" width="1.6" height="34.9" fill="#f23645"/><rect x="2007.91" y="698.4" width="8.8" height="11.1" fill="#f23645"/><rect x="2022.75" y="703.6" width="1.6" height="7.9" fill="#1f8777"/><rect x="2019.15" y="707.9" width="8.8" height="2.6" fill="#1f8777"/><rect x="2020.05" y="708.8" width="7" height="0.8" fill="#1f6fd0"/><rect x="2034" y="704.6" width="1.6" height="5.9" fill="#1f8777"/><rect x="2030.4" y="706.6" width="8.8" height="2.6" fill="#1f8777"/><rect x="2031.3" y="707.5" width="7" height="0.8" fill="#1f6fd0"/><rect x="2045.24" y="698.8" width="1.6" height="7.8" fill="#1f8777"/><rect x="2041.64" y="700.4" width="8.8" height="6.2" fill="#1f8777"/><rect x="2042.54" y="701.3" width="7" height="4.4" fill="#2962ff"/><rect x="2056.48" y="698.4" width="1.6" height="8.2" fill="#f23645"/><rect x="2052.88" y="699.5" width="8.8" height="3.5" fill="#f23645"/><rect x="2067.73" y="702.4" width="1.6" height="4.2" fill="#f23645"/><rect x="2064.13" y="702.4" width="8.8" height="4.2" fill="#f23645"/><rect x="2078.97" y="705" width="1.6" height="3.8" fill="#f23645"/><rect x="2075.37" y="704.65" width="8.8" height="2" fill="#f23645"/><rect x="2090.21" y="705.9" width="1.6" height="5.8" fill="#f23645"/><rect x="2086.61" y="707" width="8.8" height="2.8" fill="#f23645"/><rect x="2101.45" y="707.2" width="1.6" height="1.3" fill="#1f8777"/><rect x="2097.86" y="706.85" width="8.8" height="2" fill="#1f8777"/><rect x="2112.7" y="706.3" width="1.6" height="1.6" fill="#1f8777"/><rect x="2109.1" y="706.1" width="8.8" height="2" fill="#1f8777"/><rect x="2123.94" y="705.5" width="1.6" height="3.3" fill="#1f8777"/><rect x="2120.34" y="706.1" width="8.8" height="2" fill="#1f8777"/><rect x="2135.18" y="705.9" width="1.6" height="3" fill="#f23645"/><rect x="2131.58" y="706.95" width="8.8" height="2" fill="#f23645"/><rect x="2146.43" y="707.2" width="1.6" height="4.3" fill="#f23645"/><rect x="2142.83" y="707" width="8.8" height="2" fill="#f23645"/><rect x="2157.67" y="707.5" width="1.6" height="3" fill="#1f8777"/><rect x="2154.07" y="708.1" width="8.8" height="2.4" fill="#1f8777"/><rect x="2168.91" y="706.2" width="1.6" height="1.7" fill="#1f8777"/><rect x="2165.31" y="706.05" width="8.8" height="2" fill="#1f8777"/><rect x="2180.16" y="705.5" width="1.6" height="1.7" fill="#1f8777"/><rect x="2176.56" y="705.35" width="8.8" height="2" fill="#1f8777"/><rect x="2191.4" y="699.5" width="1.6" height="7.1" fill="#1f8777"/><rect x="2187.8" y="700.4" width="8.8" height="6.2" fill="#1f8777"/><rect x="2188.7" y="701.3" width="7" height="4.4" fill="#2962ff"/><rect x="2202.64" y="671.3" width="1.6" height="28.8" fill="#1f8777"/><rect x="2199.04" y="696" width="8.8" height="4.1" fill="#1f8777"/><rect x="2199.94" y="696.9" width="7" height="2.3" fill="#2962ff"/><rect x="2213.89" y="685.2" width="1.6" height="13.2" fill="#1f8777"/><rect x="2210.29" y="688.2" width="8.8" height="7.6" fill="#1f8777"/><rect x="2211.19" y="689.1" width="7" height="5.8" fill="#2962ff"/><rect x="2225.13" y="675.2" width="1.6" height="13.5" fill="#1f8777"/><rect x="2221.53" y="678.4" width="8.8" height="10.3" fill="#1f8777"/><rect x="2222.43" y="679.3" width="7" height="8.5" fill="#2962ff"/><rect x="14.5" y="490.3" width="1.5" height="38.5" fill="#f23645"/><polygon points="11.06,863.9 11.06,950.6 22.3,958.6 33.54,955.6 44.79,950.1 56.03,947 67.27,949.6 78.52,951.2 89.76,947 101,941 112.24,944.1 123.49,945.7 134.73,945.4 145.97,950.1 157.22,956.2 168.46,967.6 179.7,951.7 190.95,955.6 202.19,957.2 213.43,962.2 224.67,957.5 235.92,958.6 247.16,962.2 258.4,960.6 269.65,922.7 280.89,888.2 292.13,878.3 303.38,826.6 314.62,820.1 325.86,818 337.1,908.1 348.35,908.4 359.59,937.9 370.83,942.9 382.08,932.9 393.32,935.5 404.56,930.8 415.81,915.6 427.05,919.6 438.29,933.7 449.53,929.8 460.78,927.5 472.02,930.9 483.26,935.6 494.51,940.3 505.75,944.7 516.99,956.3 528.24,957.2 539.48,958.7 550.72,958.7 561.96,958.3 573.21,959.4 584.45,966.6 595.69,963.8 606.94,957.2 618.18,961 629.42,957.6 640.66,954.4 651.91,957.9 663.15,964.1 674.39,975.6 685.64,962.3 696.88,964.1 708.12,975.1 719.37,985.8 730.61,988.9 741.85,989.4 753.1,987.6 764.34,996.4 775.58,1002.2 786.82,972.4 798.07,967.7 809.31,914.8 820.55,944.2 831.8,943.1 843.04,959.1 854.28,958 865.52,968.5 876.77,979.2 888.01,968.2 899.25,967.7 910.5,977.9 921.74,981.4 932.98,976.8 944.23,980.7 955.47,979 966.71,972 977.95,945.8 989.2,961.9 1000.44,965.4 1011.68,964.3 1022.93,967.7 1034.17,974.8 1045.41,974.8 1056.66,977.5 1067.9,969.6 1079.14,973.5 1090.38,970.6 1101.63,959.6 1112.87,925.4 1124.11,953.6 1135.36,958.8 1146.6,960.4 1157.84,961.2 1169.09,960.4 1180.33,961.2 1191.57,972.1 1202.82,979.5 1214.06,986.5 1225.3,1007.7 1236.54,1015.1 1247.79,1006.9 1259.03,1003.8 1270.27,1013.2 1281.52,1013.2 1292.76,988.1 1304,968.2 1315.24,914.8 1326.49,943.8 1337.73,941.1 1348.97,945.8 1360.22,938.8 1371.46,952.9 1382.7,947.7 1393.95,950.5 1405.19,951.3 1416.43,968.2 1427.67,978.4 1438.92,957.9 1450.16,963.5 1461.4,951.8 1472.65,956 1483.89,963 1495.13,975.6 1506.38,961.8 1517.62,965.4 1528.86,944.6 1540.11,947.4 1551.35,913.4 1562.59,942.2 1573.83,954.4 1585.08,950.8 1596.32,943.1 1607.56,949.4 1618.81,950.5 1630.05,952.9 1641.29,948.2 1652.54,948.9 1663.78,946.6 1675.02,947.7 1686.26,948.2 1697.51,927.2 1708.75,909 1719.99,933.3 1731.24,930.9 1742.48,928.6 1753.72,927.3 1764.96,928.9 1776.21,937.2 1787.45,930.5 1798.69,936.9 1809.94,1001.4 1821.18,1008.9 1832.42,995.6 1843.67,1005.7 1854.91,995.2 1866.15,997 1877.39,991.7 1888.64,993.3 1899.88,998.6 1911.12,986.1 1922.37,990.1 1933.61,991.6 1944.85,993.1 1956.1,993.6 1967.34,987.7 1978.58,1002.9 1989.83,1008.5 2001.07,1016.5 2012.31,1032.9 2023.55,1027.9 2034.8,1018.9 2046.04,987.2 2057.28,993.9 2068.53,1000.1 2079.77,1002.8 2091.01,1005.5 2102.26,1000.3 2113.5,996.2 2124.74,993.9 2135.98,998.3 2147.23,1002.3 2158.47,987.2 2169.71,980.6 2180.96,978.8 2192.2,940.6 2203.44,921.3 2214.69,894.1 2225.93,869.3 2225.93,863.9" fill="url(#gob)" clip-path="url(#cob)"/><polygon points="11.06,995.6 11.06,950.6 22.3,958.6 33.54,955.6 44.79,950.1 56.03,947 67.27,949.6 78.52,951.2 89.76,947 101,941 112.24,944.1 123.49,945.7 134.73,945.4 145.97,950.1 157.22,956.2 168.46,967.6 179.7,951.7 190.95,955.6 202.19,957.2 213.43,962.2 224.67,957.5 235.92,958.6 247.16,962.2 258.4,960.6 269.65,922.7 280.89,888.2 292.13,878.3 303.38,826.6 314.62,820.1 325.86,818 337.1,908.1 348.35,908.4 359.59,937.9 370.83,942.9 382.08,932.9 393.32,935.5 404.56,930.8 415.81,915.6 427.05,919.6 438.29,933.7 449.53,929.8 460.78,927.5 472.02,930.9 483.26,935.6 494.51,940.3 505.75,944.7 516.99,956.3 528.24,957.2 539.48,958.7 550.72,958.7 561.96,958.3 573.21,959.4 584.45,966.6 595.69,963.8 606.94,957.2 618.18,961 629.42,957.6 640.66,954.4 651.91,957.9 663.15,964.1 674.39,975.6 685.64,962.3 696.88,964.1 708.12,975.1 719.37,985.8 730.61,988.9 741.85,989.4 753.1,987.6 764.34,996.4 775.58,1002.2 786.82,972.4 798.07,967.7 809.31,914.8 820.55,944.2 831.8,943.1 843.04,959.1 854.28,958 865.52,968.5 876.77,979.2 888.01,968.2 899.25,967.7 910.5,977.9 921.74,981.4 932.98,976.8 944.23,980.7 955.47,979 966.71,972 977.95,945.8 989.2,961.9 1000.44,965.4 1011.68,964.3 1022.93,967.7 1034.17,974.8 1045.41,974.8 1056.66,977.5 1067.9,969.6 1079.14,973.5 1090.38,970.6 1101.63,959.6 1112.87,925.4 1124.11,953.6 1135.36,958.8 1146.6,960.4 1157.84,961.2 1169.09,960.4 1180.33,961.2 1191.57,972.1 1202.82,979.5 1214.06,986.5 1225.3,1007.7 1236.54,1015.1 1247.79,1006.9 1259.03,1003.8 1270.27,1013.2 1281.52,1013.2 1292.76,988.1 1304,968.2 1315.24,914.8 1326.49,943.8 1337.73,941.1 1348.97,945.8 1360.22,938.8 1371.46,952.9 1382.7,947.7 1393.95,950.5 1405.19,951.3 1416.43,968.2 1427.67,978.4 1438.92,957.9 1450.16,963.5 1461.4,951.8 1472.65,956 1483.89,963 1495.13,975.6 1506.38,961.8 1517.62,965.4 1528.86,944.6 1540.11,947.4 1551.35,913.4 1562.59,942.2 1573.83,954.4 1585.08,950.8 1596.32,943.1 1607.56,949.4 1618.81,950.5 1630.05,952.9 1641.29,948.2 1652.54,948.9 1663.78,946.6 1675.02,947.7 1686.26,948.2 1697.51,927.2 1708.75,909 1719.99,933.3 1731.24,930.9 1742.48,928.6 1753.72,927.3 1764.96,928.9 1776.21,937.2 1787.45,930.5 1798.69,936.9 1809.94,1001.4 1821.18,1008.9 1832.42,995.6 1843.67,1005.7 1854.91,995.2 1866.15,997 1877.39,991.7 1888.64,993.3 1899.88,998.6 1911.12,986.1 1922.37,990.1 1933.61,991.6 1944.85,993.1 1956.1,993.6 1967.34,987.7 1978.58,1002.9 1989.83,1008.5 2001.07,1016.5 2012.31,1032.9 2023.55,1027.9 2034.8,1018.9 2046.04,987.2 2057.28,993.9 2068.53,1000.1 2079.77,1002.8 2091.01,1005.5 2102.26,1000.3 2113.5,996.2 2124.74,993.9 2135.98,998.3 2147.23,1002.3 2158.47,987.2 2169.71,980.6 2180.96,978.8 2192.2,940.6 2203.44,921.3 2214.69,894.1 2225.93,869.3 2225.93,995.6" fill="url(#gos)" clip-path="url(#cos)"/><polyline points="11.06,950.6 22.3,958.6 33.54,955.6 44.79,950.1 56.03,947 67.27,949.6 78.52,951.2 89.76,947 101,941 112.24,944.1 123.49,945.7 134.73,945.4 145.97,950.1 157.22,956.2 168.46,967.6 179.7,951.7 190.95,955.6 202.19,957.2 213.43,962.2 224.67,957.5 235.92,958.6 247.16,962.2 258.4,960.6 269.65,922.7 280.89,888.2 292.13,878.3 303.38,826.6 314.62,820.1 325.86,818 337.1,908.1 348.35,908.4 359.59,937.9 370.83,942.9 382.08,932.9 393.32,935.5 404.56,930.8 415.81,915.6 427.05,919.6 438.29,933.7 449.53,929.8 460.78,927.5 472.02,930.9 483.26,935.6 494.51,940.3 505.75,944.7 516.99,956.3 528.24,957.2 539.48,958.7 550.72,958.7 561.96,958.3 573.21,959.4 584.45,966.6 595.69,963.8 606.94,957.2 618.18,961 629.42,957.6 640.66,954.4 651.91,957.9 663.15,964.1 674.39,975.6 685.64,962.3 696.88,964.1 708.12,975.1 719.37,985.8 730.61,988.9 741.85,989.4 753.1,987.6 764.34,996.4 775.58,1002.2 786.82,972.4 798.07,967.7 809.31,914.8 820.55,944.2 831.8,943.1 843.04,959.1 854.28,958 865.52,968.5 876.77,979.2 888.01,968.2 899.25,967.7 910.5,977.9 921.74,981.4 932.98,976.8 944.23,980.7 955.47,979 966.71,972 977.95,945.8 989.2,961.9 1000.44,965.4 1011.68,964.3 1022.93,967.7 1034.17,974.8 1045.41,974.8 1056.66,977.5 1067.9,969.6 1079.14,973.5 1090.38,970.6 1101.63,959.6 1112.87,925.4 1124.11,953.6 1135.36,958.8 1146.6,960.4 1157.84,961.2 1169.09,960.4 1180.33,961.2 1191.57,972.1 1202.82,979.5 1214.06,986.5 1225.3,1007.7 1236.54,1015.1 1247.79,1006.9 1259.03,1003.8 1270.27,1013.2 1281.52,1013.2 1292.76,988.1 1304,968.2 1315.24,914.8 1326.49,943.8 1337.73,941.1 1348.97,945.8 1360.22,938.8 1371.46,952.9 1382.7,947.7 1393.95,950.5 1405.19,951.3 1416.43,968.2 1427.67,978.4 1438.92,957.9 1450.16,963.5 1461.4,951.8 1472.65,956 1483.89,963 1495.13,975.6 1506.38,961.8 1517.62,965.4 1528.86,944.6 1540.11,947.4 1551.35,913.4 1562.59,942.2 1573.83,954.4 1585.08,950.8 1596.32,943.1 1607.56,949.4 1618.81,950.5 1630.05,952.9 1641.29,948.2 1652.54,948.9 1663.78,946.6 1675.02,947.7 1686.26,948.2 1697.51,927.2 1708.75,909 1719.99,933.3 1731.24,930.9 1742.48,928.6 1753.72,927.3 1764.96,928.9 1776.21,937.2 1787.45,930.5 1798.69,936.9 1809.94,1001.4 1821.18,1008.9 1832.42,995.6 1843.67,1005.7 1854.91,995.2 1866.15,997 1877.39,991.7 1888.64,993.3 1899.88,998.6 1911.12,986.1 1922.37,990.1 1933.61,991.6 1944.85,993.1 1956.1,993.6 1967.34,987.7 1978.58,1002.9 1989.83,1008.5 2001.07,1016.5 2012.31,1032.9 2023.55,1027.9 2034.8,1018.9 2046.04,987.2 2057.28,993.9 2068.53,1000.1 2079.77,1002.8 2091.01,1005.5 2102.26,1000.3 2113.5,996.2 2124.74,993.9 2135.98,998.3 2147.23,1002.3 2158.47,987.2 2169.71,980.6 2180.96,978.8 2192.2,940.6 2203.44,921.3 2214.69,894.1 2225.93,869.3" fill="none" stroke="#7b5bbd" stroke-width="1.45" stroke-linejoin="round"/><polyline points="11.06,1160.37 22.3,1183.45 33.54,1176.36 44.79,1164 56.03,1196.96 67.27,1208.5 78.52,1219.21 89.76,1205.7 101,1202.73 112.24,1226.3 123.49,1234.87 134.73,1231.24 145.97,1243.93 157.22,1268.65 168.46,1265.03 179.7,1196.14 190.95,1219.54 202.19,1227.45 213.43,1253.33 224.67,1237.83 235.92,1243.44 247.16,1257.61 258.4,1250.03 269.65,1097.25 280.89,1101.37 292.13,1083.74 303.38,1091.48 314.62,1166.14 325.86,1160.7 337.1,1234.04 348.35,1234.37 359.59,1271.13 370.83,1278.05 382.08,1265.36 393.32,1268.65 404.56,1264.53 415.81,1247.23 427.05,1264.53 438.29,1282.17 449.53,1278.05 460.78,1275.25 472.02,1265.36 483.26,1270.63 494.51,1248.88 505.75,1264.53 516.99,1295.02 528.24,1257.12 539.48,1264.04 550.72,1264.04 561.96,1264.53 573.21,1264.86 584.45,1285.96 595.69,1278.54 606.94,1258.77 618.18,1271.13 629.42,1257.94 640.66,1243.93 651.91,1251.68 663.15,1274.42 674.39,1144.22 685.64,1113.4 696.88,1117.52 708.12,1142.57 719.37,1167.79 730.61,1175.54 741.85,1176.85 753.1,1174.71 764.34,1190.37 775.58,1206.03 786.82,1171.42 798.07,1164.99 809.31,1097.25 820.55,1152.13 831.8,1180.48 843.04,1229.92 854.28,1227.45 865.52,1261.73 876.77,1297.5 888.01,1275.74 899.25,1274.75 910.5,1284.31 921.74,1293.71 932.98,1282.66 944.23,1291.4 955.47,1289.59 966.71,1276.4 977.95,1217.56 989.2,1258.77 1000.44,1262.06 1011.68,1252.17 1022.93,1264.2 1034.17,1248.38 1045.41,1249.21 1056.66,1257.12 1067.9,1241.46 1079.14,1253 1090.38,1248.05 1101.63,1227.78 1112.87,1149.66 1124.11,1231.57 1135.36,1249.7 1146.6,1251.84 1157.84,1254.15 1169.09,1253 1180.33,1255.14 1191.57,1287.61 1202.82,1274.92 1214.06,1290.08 1225.3,1245.91 1236.54,1266.51 1247.79,1257.94 1259.03,1255.96 1270.27,1273.27 1281.52,1269.48 1292.76,1243.44 1304,1218.06 1315.24,1126.59 1326.49,1188.72 1337.73,1178.5 1348.97,1188.39 1360.22,1175.21 1371.46,1208 1382.7,1210.48 1393.95,1217.07 1405.19,1218.39 1416.43,1261.24 1427.67,1287.61 1438.92,1265.03 1450.16,1280.19 1461.4,1258.77 1472.65,1267.83 1483.89,1276.4 1495.13,1299.47 1506.38,1259.59 1517.62,1272.78 1528.86,1199.76 1540.11,1199.43 1551.35,1089.83 1562.59,1206.85 1573.83,1268.16 1585.08,1254.15 1596.32,1225.8 1607.56,1255.14 1618.81,1258.27 1630.05,1268.65 1641.29,1254.32 1652.54,1257.94 1663.78,1262.39 1675.02,1266.18 1686.26,1267.34 1697.51,1203.88 1708.75,1143.73 1719.99,1185.42 1731.24,1187.4 1742.48,1175.21 1753.72,1169.44 1764.96,1174.38 1776.21,1208.83 1787.45,1193.67 1798.69,1222.18 1809.94,1180.48 1821.18,1196.63 1832.42,1185.42 1843.67,1207.18 1854.91,1198.28 1866.15,1202.24 1877.39,1190.04 1888.64,1193.17 1899.88,1201.58 1911.12,1192.35 1922.37,1197.79 1933.61,1198.61 1944.85,1201.58 1956.1,1198.28 1967.34,1251.68 1978.58,1271.46 1989.83,1270.3 2001.07,1272.78 2012.31,1214.27 2023.55,1209.65 2034.8,1201.91 2046.04,1172.24 2057.28,1186.25 2068.53,1195.31 2079.77,1201.58 2091.01,1208.5 2102.26,1203.88 2113.5,1200.26 2124.74,1198.11 2135.98,1179.99 2147.23,1183.28 2158.47,1165.32 2169.71,1210.48 2180.96,1206.03 2192.2,1094.45 2203.44,1206.52 2214.69,1159.88 2225.93,1107.96" fill="none" stroke="#3265d8" stroke-width="1.35" stroke-linejoin="round"/><polyline points="11.06,1121.48 22.3,1147.52 33.54,1173.39 44.79,1174.6 56.03,1179.11 67.27,1189.82 78.52,1208.22 89.76,1211.14 101,1209.21 112.24,1211.57 123.49,1221.3 134.73,1230.8 145.97,1236.68 157.22,1247.94 168.46,1259.21 179.7,1243.27 190.95,1226.9 202.19,1214.38 213.43,1233.44 224.67,1239.54 235.92,1244.87 247.16,1246.3 258.4,1250.36 269.65,1201.63 280.89,1149.55 292.13,1094.12 303.38,1092.2 314.62,1113.79 325.86,1139.44 337.1,1186.96 348.35,1209.71 359.59,1246.51 370.83,1261.18 382.08,1271.51 393.32,1270.69 404.56,1266.18 415.81,1260.14 427.05,1258.77 438.29,1264.64 449.53,1274.92 460.78,1278.49 472.02,1272.88 483.26,1270.41 494.51,1261.62 505.75,1261.35 516.99,1269.48 528.24,1272.23 539.48,1272.06 550.72,1261.73 561.96,1264.2 573.21,1264.48 584.45,1271.79 595.69,1276.46 606.94,1274.42 618.18,1269.48 629.42,1262.61 640.66,1257.67 651.91,1251.18 663.15,1256.68 674.39,1223.44 685.64,1177.35 696.88,1125.05 708.12,1124.5 719.37,1142.63 730.61,1161.97 741.85,1173.39 753.1,1175.7 764.34,1180.64 775.58,1190.37 786.82,1189.27 798.07,1180.81 809.31,1144.55 820.55,1138.12 831.8,1143.29 843.04,1187.51 854.28,1212.62 865.52,1239.7 876.77,1262.23 888.01,1278.32 899.25,1282.66 910.5,1278.27 921.74,1284.26 932.98,1286.89 944.23,1289.26 955.47,1287.88 966.71,1285.8 977.95,1261.18 989.2,1250.91 1000.44,1246.13 1011.68,1257.67 1022.93,1259.48 1034.17,1254.92 1045.41,1253.93 1056.66,1251.57 1067.9,1249.26 1079.14,1250.53 1090.38,1247.5 1101.63,1242.94 1112.87,1208.5 1124.11,1203 1135.36,1210.31 1146.6,1244.37 1157.84,1251.9 1169.09,1253 1180.33,1254.1 1191.57,1265.25 1202.82,1272.56 1214.06,1284.2 1225.3,1270.3 1236.54,1267.5 1247.79,1256.79 1259.03,1260.14 1270.27,1262.39 1281.52,1266.24 1292.76,1262.06 1304,1243.66 1315.24,1196.03 1326.49,1177.79 1337.73,1164.6 1348.97,1185.2 1360.22,1180.7 1371.46,1190.53 1382.7,1197.9 1393.95,1211.85 1405.19,1215.31 1416.43,1232.23 1427.67,1255.74 1438.92,1271.29 1450.16,1277.61 1461.4,1268 1472.65,1268.93 1483.89,1267.67 1495.13,1281.24 1506.38,1278.49 1517.62,1277.28 1528.86,1244.04 1540.11,1223.99 1551.35,1163.01 1562.59,1165.37 1573.83,1188.28 1585.08,1243.05 1596.32,1249.37 1607.56,1245.03 1618.81,1246.41 1630.05,1260.69 1641.29,1260.41 1652.54,1260.3 1663.78,1258.22 1675.02,1262.17 1686.26,1265.3 1697.51,1245.8 1708.75,1204.98 1719.99,1177.68 1731.24,1172.18 1742.48,1182.68 1753.72,1177.35 1764.96,1173.01 1776.21,1184.22 1787.45,1192.29 1798.69,1208.22 1809.94,1198.77 1821.18,1199.76 1832.42,1187.51 1843.67,1196.41 1854.91,1196.96 1866.15,1202.56 1877.39,1196.85 1888.64,1195.15 1899.88,1194.93 1911.12,1195.7 1922.37,1197.24 1933.61,1196.25 1944.85,1199.32 1956.1,1199.49 1967.34,1217.18 1978.58,1240.47 1989.83,1264.48 2001.07,1271.51 2012.31,1252.45 2023.55,1232.23 2034.8,1208.61 2046.04,1194.6 2057.28,1186.8 2068.53,1184.6 2079.77,1194.38 2091.01,1201.8 2102.26,1204.65 2113.5,1204.21 2124.74,1200.75 2135.98,1192.79 2147.23,1187.13 2158.47,1176.19 2169.71,1186.36 2180.96,1193.94 2192.2,1170.32 2203.44,1169 2214.69,1153.62 2225.93,1158.12" fill="none" stroke="#ea8230" stroke-width="1.45" stroke-linejoin="round"/></g><g fill="#15161a"><path d="M17 1405.9H34.5V1426.7H26V1413.6H17Z"/><circle cx="41.5" cy="1409.9" r="4.2"/><path d="M49.9 1405.9H59.8L51.5 1426.7H41.5Z"/></g><g fill="#15161a" stroke="none"><rect x="70.07" y="1405.4" width="15.67" height="4.3"/><rect x="75.95" y="1405.4" width="4.05" height="21.5"/><rect x="86" y="1411.6" width="3.95" height="15.300000000000182"/><rect x="107.8" y="1411.6" width="3.95" height="15.300000000000182"/><rect x="126.25" y="1405.2" width="3.95" height="21.700000000000045"/><rect x="133.3" y="1411.6" width="4" height="15.300000000000182"/><circle cx="135.3" cy="1407.4" r="2.75"/><rect x="140.15" y="1411.6" width="3.95" height="15.300000000000182"/><rect x="150.9" y="1418" width="3.95" height="8.900000000000091"/><rect x="169.4" y="1411.6" width="4" height="15.400000000000091"/><path d="M172.9 1405.4H178.1L183.75 1420L189.45 1405.4H194.5L185.95 1426.9H181.45Z"/><rect x="196.35" y="1411.6" width="4.05" height="15.300000000000182"/><circle cx="198.37" cy="1407.4" r="2.75"/><rect x="205" y="1418.4" width="13.9" height="3.1"/></g><g fill="none" stroke="#15161a" stroke-width="4.05"><path d="M87.97 1422 C87.97 1415.2 90.3 1413.3 94.55 1413.3" stroke-width="3.95"/><clipPath id="ca"><rect x="90" y="1400" width="21.75" height="40"/></clipPath><circle cx="103.85" cy="1419.3" r="6.45" clip-path="url(#ca)"/><clipPath id="cd"><rect x="110" y="1400" width="20.2" height="40"/></clipPath><circle cx="122.46" cy="1419.3" r="6.28" clip-path="url(#cd)"/><clipPath id="cg"><rect x="150" y="1400" width="23.4" height="40"/></clipPath><circle cx="165.47" cy="1419.3" r="6.3" clip-path="url(#cg)"/><path d="M142.13 1420 A5.38 7.1 0 0 1 152.88 1420" stroke-width="3.95"/><path d="M171.4 1426.3 A6.3 6.3 0 0 1 160.27 1430.35" stroke-width="4"/><path d="M216.90 1419.94 A6.13 6.13 0 1 0 215.94 1422.64" stroke-width="4"/></g><clipPath id="cw"><rect x="215" y="1411.6" width="32" height="15.300000000000182"/></clipPath><g clip-path="url(#cw)"><polyline points="221.4,1410.6 225.6,1428 231.4,1411.8 237.2,1428 241.35,1410.6" fill="none" stroke="#15161a" stroke-width="4.3" stroke-linejoin="miter" stroke-miterlimit="10"/></g></svg>
<div id="tx" style="position:absolute;left:0;top:0;width:2560px;height:1460px;will-change:transform"><div class="t" style="left:14.22px;top:13.12px;font-size:17px;line-height:19.53px;font-weight:normal;color:#131722;letter-spacing:0.889px">crispus9</div><div class="t" style="left:88.92px;top:13.12px;font-size:17px;line-height:19.53px;font-weight:normal;color:#131722;letter-spacing:0.701px">created</div><div class="t" style="left:155.99px;top:13.12px;font-size:17px;line-height:19.53px;font-weight:normal;color:#131722;letter-spacing:0.953px">with</div><div class="t" style="left:194.46px;top:13.12px;font-size:17px;line-height:19.53px;font-weight:normal;color:#131722;letter-spacing:0.577px">TradingView.com,</div><div class="t" style="left:342.34px;top:13.12px;font-size:17px;line-height:19.53px;font-weight:normal;color:#131722;letter-spacing:0.615px">Oct</div><div class="t" style="left:377.05px;top:13.12px;font-size:17px;line-height:19.53px;font-weight:normal;color:#131722;letter-spacing:0.425px">29,</div><div class="t" style="left:407.25px;top:13.12px;font-size:17px;line-height:19.53px;font-weight:normal;color:#131722;letter-spacing:1.102px">2025</div><div class="t" style="left:453.83px;top:13.12px;font-size:17px;line-height:19.53px;font-weight:normal;color:#131722;letter-spacing:-0.461px">17:15</div><div class="t" style="left:500.03px;top:13.12px;font-size:17px;line-height:19.53px;font-weight:normal;color:#131722;letter-spacing:0.635px">UTC+3</div><div class="t" style="left:25.74px;top:52.02px;font-size:17px;line-height:19.53px;font-weight:normal;color:#131722;letter-spacing:0.520px">Pi</div><div class="t" style="left:45.94px;top:52.02px;font-size:17px;line-height:19.53px;font-weight:normal;color:#131722;letter-spacing:0.549px">Network/USD</div><div class="t" style="left:159.74px;top:52.02px;font-size:17px;line-height:19.53px;font-weight:normal;color:#131722;letter-spacing:0.000px">·</div><div class="t" style="left:168.72px;top:52.02px;font-size:17px;line-height:19.53px;font-weight:normal;color:#131722;letter-spacing:-1.635px">1D</div><div class="t" style="left:194.04px;top:52.02px;font-size:17px;line-height:19.53px;font-weight:normal;color:#131722;letter-spacing:0.000px">·</div><div class="t" style="left:204.84px;top:52.02px;font-size:17px;line-height:19.53px;font-weight:normal;color:#131722;letter-spacing:-0.375px">OKX</div><div class="t" style="left:250.74px;top:52.02px;font-size:17px;line-height:19.53px;font-weight:normal;color:#131722;letter-spacing:0.000px">O</div><div class="t" style="left:264.20px;top:52.02px;font-size:17px;line-height:19.53px;font-weight:normal;color:#27a08c;letter-spacing:0.491px">0.2515</div><div class="t" style="left:328.14px;top:52.02px;font-size:17px;line-height:19.53px;font-weight:normal;color:#131722;letter-spacing:0.000px">H</div><div class="t" style="left:341.40px;top:52.02px;font-size:17px;line-height:19.53px;font-weight:normal;color:#27a08c;letter-spacing:1.091px">0.2858</div><div class="t" style="left:408.34px;top:52.02px;font-size:17px;line-height:19.53px;font-weight:normal;color:#131722;letter-spacing:0.000px">L</div><div class="t" style="left:419.30px;top:52.02px;font-size:17px;line-height:19.53px;font-weight:normal;color:#27a08c;letter-spacing:0.911px">0.2508</div><div class="t" style="left:485.55px;top:52.02px;font-size:17px;line-height:19.53px;font-weight:normal;color:#131722;letter-spacing:0.000px">C</div><div class="t" style="left:498.40px;top:52.02px;font-size:17px;line-height:19.53px;font-weight:normal;color:#27a08c;letter-spacing:0.208px">0.2771</div><div class="t" style="left:561.30px;top:52.02px;font-size:17px;line-height:19.53px;font-weight:normal;color:#131722;letter-spacing:0.795px">Vol</div><div class="t" style="left:586.65px;top:52.02px;font-size:17px;line-height:19.53px;font-weight:normal;color:#27a08c;letter-spacing:0.819px">708.39</div><div class="t" style="left:645.34px;top:52.02px;font-size:17px;line-height:19.53px;font-weight:normal;color:#27a08c;letter-spacing:0.000px">K</div><div class="t" style="left:2440.51px;top:52.57px;font-size:18.6px;line-height:21.37px;font-weight:normal;color:#131722;letter-spacing:-1.207px">USD</div><div class="t" style="left:24.94px;top:804.62px;font-size:17px;line-height:19.53px;font-weight:normal;color:#131722;letter-spacing:-0.200px">RSI</div><div class="t" style="left:58.18px;top:804.62px;font-size:17px;line-height:19.53px;font-weight:normal;color:#131722;letter-spacing:-0.025px">(14,</div><div class="t" style="left:92.12px;top:804.62px;font-size:17px;line-height:19.53px;font-weight:normal;color:#131722;letter-spacing:0.742px">close)</div><div class="t" style="left:150.85px;top:804.62px;font-size:17px;line-height:19.53px;font-weight:normal;color:#7e57c2;letter-spacing:1.383px">68.26</div><div class="t" style="left:25.54px;top:1070.41px;font-size:17px;line-height:19.53px;font-weight:normal;color:#131722;letter-spacing:1.037px">Stoch</div><div class="t" style="left:78.08px;top:1070.41px;font-size:17px;line-height:19.53px;font-weight:normal;color:#131722;letter-spacing:0.208px">(14,</div><div class="t" style="left:111.22px;top:1070.41px;font-size:17px;line-height:19.53px;font-weight:normal;color:#131722;letter-spacing:-0.090px">1,</div><div class="t" style="left:130.31px;top:1070.41px;font-size:17px;line-height:19.53px;font-weight:normal;color:#131722;letter-spacing:1.385px">3)</div><div class="t" style="left:157.32px;top:1070.41px;font-size:17px;line-height:19.53px;font-weight:normal;color:#2e62d9;letter-spacing:1.065px">83.35</div><div class="t" style="left:213.55px;top:1070.41px;font-size:17px;line-height:19.53px;font-weight:normal;color:#ee7d22;letter-spacing:0.532px">61.65</div><div class="t" style="left:2438.36px;top:128.63px;font-size:24.5px;line-height:28.15px;font-weight:normal;color:#131722;letter-spacing:0.125px">1.6000</div><div class="t" style="left:2438.36px;top:209.66px;font-size:24.5px;line-height:28.15px;font-weight:normal;color:#131722;letter-spacing:0.125px">1.4000</div><div class="t" style="left:2438.36px;top:290.70px;font-size:24.5px;line-height:28.15px;font-weight:normal;color:#131722;letter-spacing:0.125px">1.2000</div><div class="t" style="left:2438.36px;top:371.73px;font-size:24.5px;line-height:28.15px;font-weight:normal;color:#131722;letter-spacing:0.125px">1.0000</div><div class="t" style="left:2437.84px;top:452.77px;font-size:24.5px;line-height:28.15px;font-weight:normal;color:#131722;letter-spacing:0.229px">0.8000</div><div class="t" style="left:2437.84px;top:533.81px;font-size:24.5px;line-height:28.15px;font-weight:normal;color:#131722;letter-spacing:0.229px">0.6000</div><div class="t" style="left:2437.84px;top:614.84px;font-size:24.5px;line-height:28.15px;font-weight:normal;color:#131722;letter-spacing:0.229px">0.4000</div><div class="t" style="left:2437.84px;top:695.88px;font-size:24.5px;line-height:28.15px;font-weight:normal;color:#131722;letter-spacing:0.229px">0.2000</div><div class="t" style="left:2437.72px;top:817.08px;font-size:24.5px;line-height:28.15px;font-weight:normal;color:#131722;letter-spacing:0.222px">80.00</div><div class="t" style="left:2437.47px;top:882.98px;font-size:24.5px;line-height:28.15px;font-weight:normal;color:#131722;letter-spacing:0.283px">60.00</div><div class="t" style="left:2438.21px;top:948.88px;font-size:24.5px;line-height:28.15px;font-weight:normal;color:#131722;letter-spacing:0.099px">40.00</div><div class="t" style="left:2437.47px;top:1014.78px;font-size:24.5px;line-height:28.15px;font-weight:normal;color:#131722;letter-spacing:0.283px">20.00</div><div class="t" style="left:2438.36px;top:1054.98px;font-size:24.5px;line-height:28.15px;font-weight:normal;color:#131722;letter-spacing:0.065px">100.00</div><div class="t" style="left:2437.47px;top:1114.28px;font-size:24.5px;line-height:28.15px;font-weight:normal;color:#131722;letter-spacing:0.283px">75.00</div><div class="t" style="left:2437.72px;top:1173.28px;font-size:24.5px;line-height:28.15px;font-weight:normal;color:#131722;letter-spacing:0.222px">50.00</div><div class="t" style="left:2437.47px;top:1231.98px;font-size:24.5px;line-height:28.15px;font-weight:normal;color:#131722;letter-spacing:0.283px">25.00</div><div class="t" style="left:2437.84px;top:1290.78px;font-size:24.5px;line-height:28.15px;font-weight:normal;color:#131722;letter-spacing:0.121px">0.00</div><div class="t" style="left:168.07px;top:1334.14px;font-size:23.6px;line-height:27.12px;font-weight:bold;color:#131722;letter-spacing:-0.134px">May</div><div class="t" style="left:519.85px;top:1334.14px;font-size:23.6px;line-height:27.12px;font-weight:bold;color:#131722;letter-spacing:-0.410px">Jun</div><div class="t" style="left:860.25px;top:1334.14px;font-size:23.6px;line-height:27.12px;font-weight:bold;color:#131722;letter-spacing:0.352px">Jul</div><div class="t" style="left:1203.01px;top:1334.14px;font-size:23.6px;line-height:27.12px;font-weight:bold;color:#131722;letter-spacing:-0.189px">Aug</div><div class="t" style="left:1552.01px;top:1334.14px;font-size:23.6px;line-height:27.12px;font-weight:bold;color:#131722;letter-spacing:0.264px">Sep</div><div class="t" style="left:1890.56px;top:1334.14px;font-size:23.6px;line-height:27.12px;font-weight:bold;color:#131722;letter-spacing:0.084px">Oct</div><div class="t" style="left:2237.27px;top:1334.14px;font-size:23.6px;line-height:27.12px;font-weight:bold;color:#131722;letter-spacing:-0.985px">Nov</div></div>
</body></html>
